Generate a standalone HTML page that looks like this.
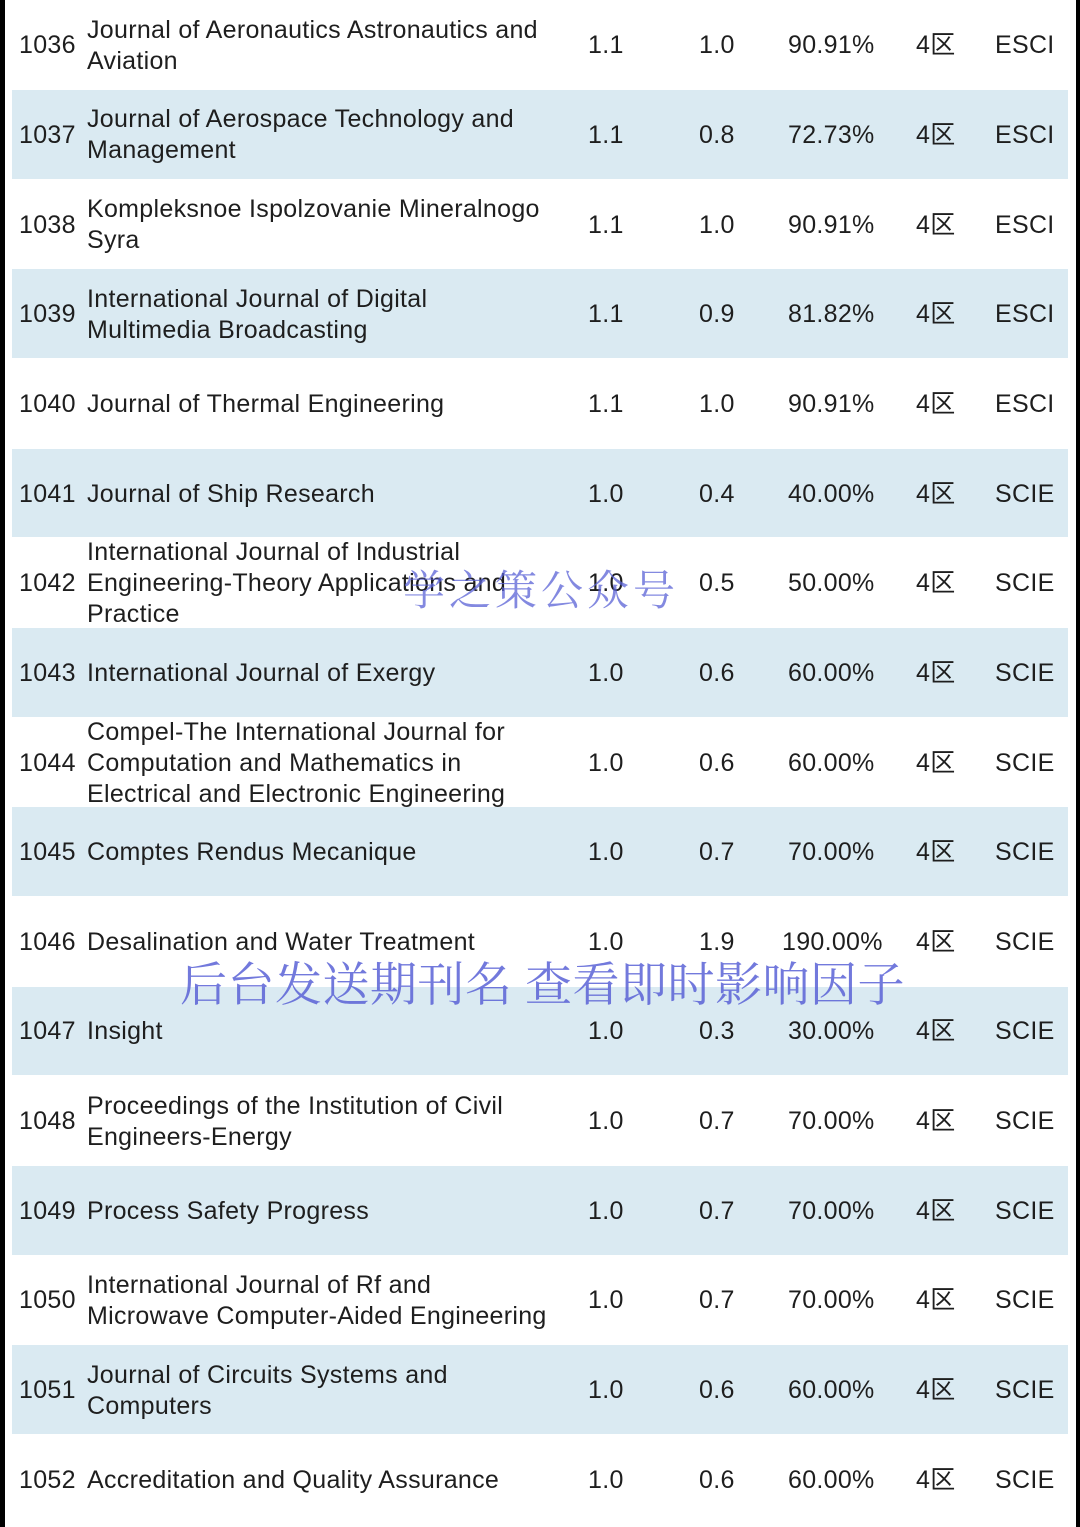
<!DOCTYPE html>
<html><head><meta charset="utf-8">
<style>
html,body{margin:0;padding:0;}
body{width:1080px;height:1527px;position:relative;background:#fff;overflow:hidden;font-family:"Liberation Sans","Noto Sans CJK SC",sans-serif;color:#1e1e1e;}
.row{position:absolute;left:12px;width:1056px;}
.shade{background:#daeaf2;}
.c{position:absolute;font-size:25px;letter-spacing:0.3px;line-height:31px;white-space:nowrap;}
.bl{position:absolute;top:0;bottom:0;background:#000;}
.wm{position:absolute;font-family:"Noto Serif CJK SC","WenQuanYi Zen Hei",serif;color:#5a62d6;white-space:nowrap;}
</style></head><body>
<div class="bl" style="left:0;width:5px"></div>
<div class="bl" style="right:0;width:4px"></div>
<div id="tbl"></div>
<div class="wm" style="left:403px;top:558px;font-size:42px;letter-spacing:4px;opacity:0.75">学之策公众号</div>
<div class="wm" style="left:180px;top:948px;font-size:47px;letter-spacing:0.5px;opacity:0.85">后台发送期刊名 查看即时影响因子</div>
<script>
const rows = [
 ["1036",["Journal of Aeronautics Astronautics and","Aviation"],"1.1","1.0","90.91%","ESCI"],
 ["1037",["Journal of Aerospace Technology and","Management"],"1.1","0.8","72.73%","ESCI"],
 ["1038",["Kompleksnoe Ispolzovanie Mineralnogo","Syra"],"1.1","1.0","90.91%","ESCI"],
 ["1039",["International Journal of Digital","Multimedia Broadcasting"],"1.1","0.9","81.82%","ESCI"],
 ["1040",["Journal of Thermal Engineering"],"1.1","1.0","90.91%","ESCI"],
 ["1041",["Journal of Ship Research"],"1.0","0.4","40.00%","SCIE"],
 ["1042",["International Journal of Industrial","Engineering-Theory Applications and","Practice"],"1.0","0.5","50.00%","SCIE"],
 ["1043",["International Journal of Exergy"],"1.0","0.6","60.00%","SCIE"],
 ["1044",["Compel-The International Journal for","Computation and Mathematics in","Electrical and Electronic Engineering"],"1.0","0.6","60.00%","SCIE"],
 ["1045",["Comptes Rendus Mecanique"],"1.0","0.7","70.00%","SCIE"],
 ["1046",["Desalination and Water Treatment"],"1.0","1.9","190.00%","SCIE"],
 ["1047",["Insight"],"1.0","0.3","30.00%","SCIE"],
 ["1048",["Proceedings of the Institution of Civil","Engineers-Energy"],"1.0","0.7","70.00%","SCIE"],
 ["1049",["Process Safety Progress"],"1.0","0.7","70.00%","SCIE"],
 ["1050",["International Journal of Rf and","Microwave Computer-Aided Engineering"],"1.0","0.7","70.00%","SCIE"],
 ["1051",["Journal of Circuits Systems and","Computers"],"1.0","0.6","60.00%","SCIE"],
 ["1052",["Accreditation and Quality Assurance"],"1.0","0.6","60.00%","SCIE"]
];
const tbl=document.getElementById('tbl');
const H=89.65;
function cell(parent,txt,left,top,name){
  const d=document.createElement('div');
  d.className='c';
  d.style.left=left+'px';d.style.top=top+'px';
  d.innerHTML=txt;
  
  
  parent.appendChild(d);
}
rows.forEach((r,i)=>{
  const row=document.createElement('div');
  row.className='row'+(i%2?' shade':'');
  row.style.top=(i*H+0.5)+'px';row.style.height=(H-1)+'px';
  
  
  tbl.appendChild(row);
  const mid=H/2-15;
  cell(row,r[0],7,mid,'rank');
  const n=r[1].length;
  cell(row,r[1].join('<br>'),75,H/2-n*31/2+0.5,'journal-name');
  cell(row,r[2],576,mid,'impact-factor');
  cell(row,r[3],687,mid,'realtime-if');
  cell(row,r[4],r[4].length>6?770:776,mid,'if-ratio');
  cell(row,'4区',904,mid,'zone');
  cell(row,r[5],983,mid,'index-type');
});
</script>
</body></html>
